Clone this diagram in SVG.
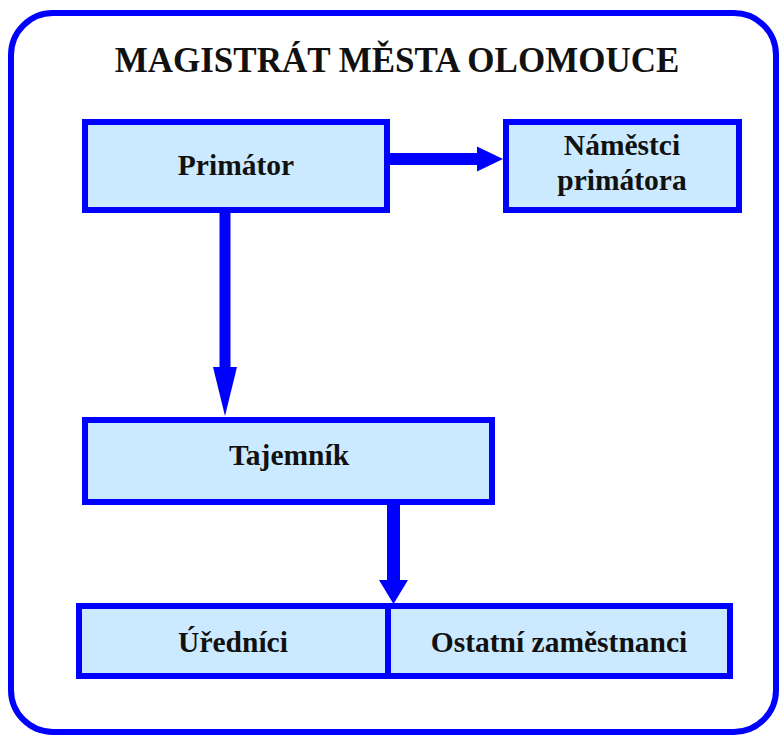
<svg xmlns="http://www.w3.org/2000/svg" width="779" height="736" viewBox="0 0 779 736">
<style>
.frame{fill:#ffffff;stroke:#0000ff;stroke-width:6}
.box{fill:#cceaff;stroke:#0000ff;stroke-width:6}
.lbl{font-family:"Liberation Serif","Times New Roman",serif;font-weight:bold;font-size:29.5px;fill:#111111;text-anchor:middle}
.title{font-family:"Liberation Serif","Times New Roman",serif;font-weight:bold;font-size:35px;fill:#111111;text-anchor:middle}
.shaft{stroke:#0000ff;fill:none}
.head{fill:#0000ff;stroke:none}
</style>
<rect class="frame" x="11" y="13" width="765" height="719" rx="42" ry="42"/>
<text class="title" x="397" y="72">MAGISTRÁT MĚSTA OLOMOUCE</text>
<g id="connectors">
<line class="shaft" x1="390" y1="159" x2="479" y2="159" stroke-width="12"/>
<polygon class="head" points="477,146.5 503,159 477,171.5"/>
<line class="shaft" x1="225" y1="213" x2="225" y2="369" stroke-width="11"/>
<polygon class="head" points="213,367 237,367 225,416"/>
<line class="shaft" x1="393.5" y1="505" x2="393.5" y2="582" stroke-width="13"/>
<polygon class="head" points="379,580 408,580 393.5,604"/>
</g>
<g id="primator">
<rect class="box" x="85" y="122" width="302" height="88"/>
<text class="lbl" x="236" y="175">Primátor</text>
</g>
<g id="namestci">
<rect class="box" x="506" y="122" width="233" height="88"/>
<text class="lbl" x="622" y="155">Náměstci</text>
<text class="lbl" x="622" y="190">primátora</text>
</g>
<g id="tajemnik">
<rect class="box" x="85" y="420" width="407" height="82"/>
<text class="lbl" x="289" y="465">Tajemník</text>
</g>
<g id="urednici">
<rect class="box" x="79" y="606" width="309" height="70"/>
<text class="lbl" x="233" y="652">Úředníci</text>
</g>
<g id="ostatni">
<rect class="box" x="388" y="606" width="342" height="70"/>
<text class="lbl" x="559" y="652">Ostatní zaměstnanci</text>
</g>
</svg>
